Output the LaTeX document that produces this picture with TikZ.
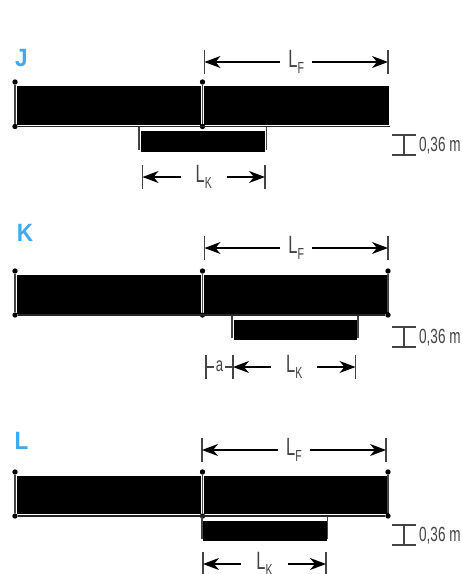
\documentclass[tikz,border=0pt]{standalone}
\usepackage{fontspec}
\setmainfont[FakeStretch=0.66]{Liberation Sans}
\newfontfamily\seclabelfont[FakeStretch=0.9]{Liberation Sans}
\usetikzlibrary{arrows.meta}
\definecolor{lblblue}{HTML}{3FA9F5}
\definecolor{dimgray}{HTML}{444444}
\tikzset{
  x=1pt,y=-1pt,
  beam/.style={fill=black,draw=none},
  member/.style={draw=dimgray,line width=1.5pt},
  baseline rule/.style={draw=black!85,line width=1.3pt},
  joint/.style={circle,fill=black,inner sep=0pt,minimum size=5.4pt},
  dimtick/.style={draw=dimgray,line width=1.3pt},
  dimarrow/.style={draw=black,line width=1.2pt,-{Stealth[length=16pt,width=12pt,inset=5pt]}},
  dimlabel/.style={inner sep=0pt,minimum height=10pt,text=dimgray,font=\fontsize{25}{25}\selectfont},
  heightlabel/.style={inner sep=0pt,anchor=west,text=dimgray,font=\fontsize{20.5}{20.5}\selectfont},
  seclabel/.style={inner sep=0pt,text=lblblue,font=\seclabelfont\fontsize{25}{25}\selectfont\bfseries},
  sublabel/.style={inner sep=2pt,text=dimgray,font=\fontsize{20}{20}\selectfont}
}
\newcommand{\LSub}[1]{L\raisebox{-5.5pt}{\fontsize{16}{16}\selectfont #1}}
% name, x1, x2, y, label, gap width
\newcommand{\dimrun}[6]{%
  \coordinate (#1a) at (#2,#4);
  \coordinate (#1b) at (#3,#4);
  \draw[dimtick] (#2,#4-12) -- (#2,#4+12);
  \draw[dimtick] (#3,#4-12) -- (#3,#4+12);
  \node[dimlabel,minimum width=#6pt] (#1t) at ({(#2+#3)/2},#4) {\LSub{#5}};
  \draw[dimarrow] (#1t) -- (#1a);
  \draw[dimarrow] (#1t) -- (#1b);
}
% name, ytop
\newcommand{\heightmark}[2]{%
  \draw[dimtick] (392,#2) -- (416,#2);
  \draw[dimtick] (392,#2+20) -- (416,#2+20);
  \draw[dimtick] (404,#2) -- (404,#2+20);
  \node[heightlabel] (#1) at (419,#2+10.5) {0,36 m};
}
\newcommand{\topbeam}[5]{%  name, ytopbeam, ybotbeam, ydot-top, ydot-bot
  \fill[beam] (17,#2) rectangle (200.7,#3);
  \fill[beam] (204.3,#2) rectangle (388.5,#3);
  \node[joint] (#1tl) at (15,#4) {};
  \node[joint] (#1tm) at (202.5,#4) {};
  \node[joint] (#1bl) at (15,#5) {};
  \node[joint] (#1bm) at (202.5,#5) {};
  \draw[member] (#1tl) -- (#1bl);
  \draw[member] (#1tm) -- (#1bm);
}
\begin{document}
\begin{tikzpicture}
\useasboundingbox (0,0) rectangle (462,574);
\fill[white] (0,0) rectangle (462,574);

% ---------- J
\node[seclabel] (labJ) at (21.5,58) {J};
\dimrun{fj}{204.5}{388}{62}{F}{32}
\topbeam{j}{86}{125}{82}{126.5}
\coordinate (jr) at (390,126.5);
\draw[baseline rule] (jbl) -- (jr);
\fill[beam] (141,131) rectangle (265,151.5);
\draw[member] (139,127) -- (139,149.5);
\draw[member] (266.5,127) -- (266.5,149.5);
\dimrun{kj}{142.5}{265}{177}{K}{46}
\heightmark{hj}{135}

% ---------- K
\node[seclabel] (labK) at (25,233) {K};
\dimrun{fk}{204.5}{388}{248}{F}{32}
\topbeam{k}{275}{313.5}{271}{315}
\node[joint] (ktr) at (388,271) {};
\node[joint] (kbr) at (388,315) {};
\draw[member] (ktr) -- (kbr);
\draw[baseline rule] (kbl) -- (kbr);
\fill[beam] (234,319.5) rectangle (357,340);
\draw[member] (232,316) -- (232,338);
\draw[member] (358,316) -- (358,338);
\dimrun{kk}{233}{355.5}{367}{K}{46}
\draw[dimtick] (206,355) -- (206,379);
\node[sublabel] (aK) at (219.5,366) {a};
\coordinate (aL) at (206,367);
\coordinate (aR) at (233,367);
\draw[dimtick] (aL) -- (aK.west |- aL);
\draw[dimtick] (aK.east |- aR) -- (aR);
\heightmark{hk}{327}

% ---------- L
\node[seclabel] (labL) at (21.5,441) {L};
\dimrun{fl}{202}{386}{450}{F}{32}
\topbeam{l}{476}{514}{472}{516}
\node[joint] (ltr) at (388,472) {};
\node[joint] (lbr) at (388,516) {};
\draw[member] (ltr) -- (lbr);
\draw[baseline rule] (lbl) -- (lbr);
\fill[beam] (203,521) rectangle (327,541);
\draw[member] (202,517) -- (202,539);
\draw[member] (327.5,517) -- (327.5,539);
\dimrun{kl}{203}{326}{564}{K}{46}
\heightmark{hl}{525}
\end{tikzpicture}
\end{document}
